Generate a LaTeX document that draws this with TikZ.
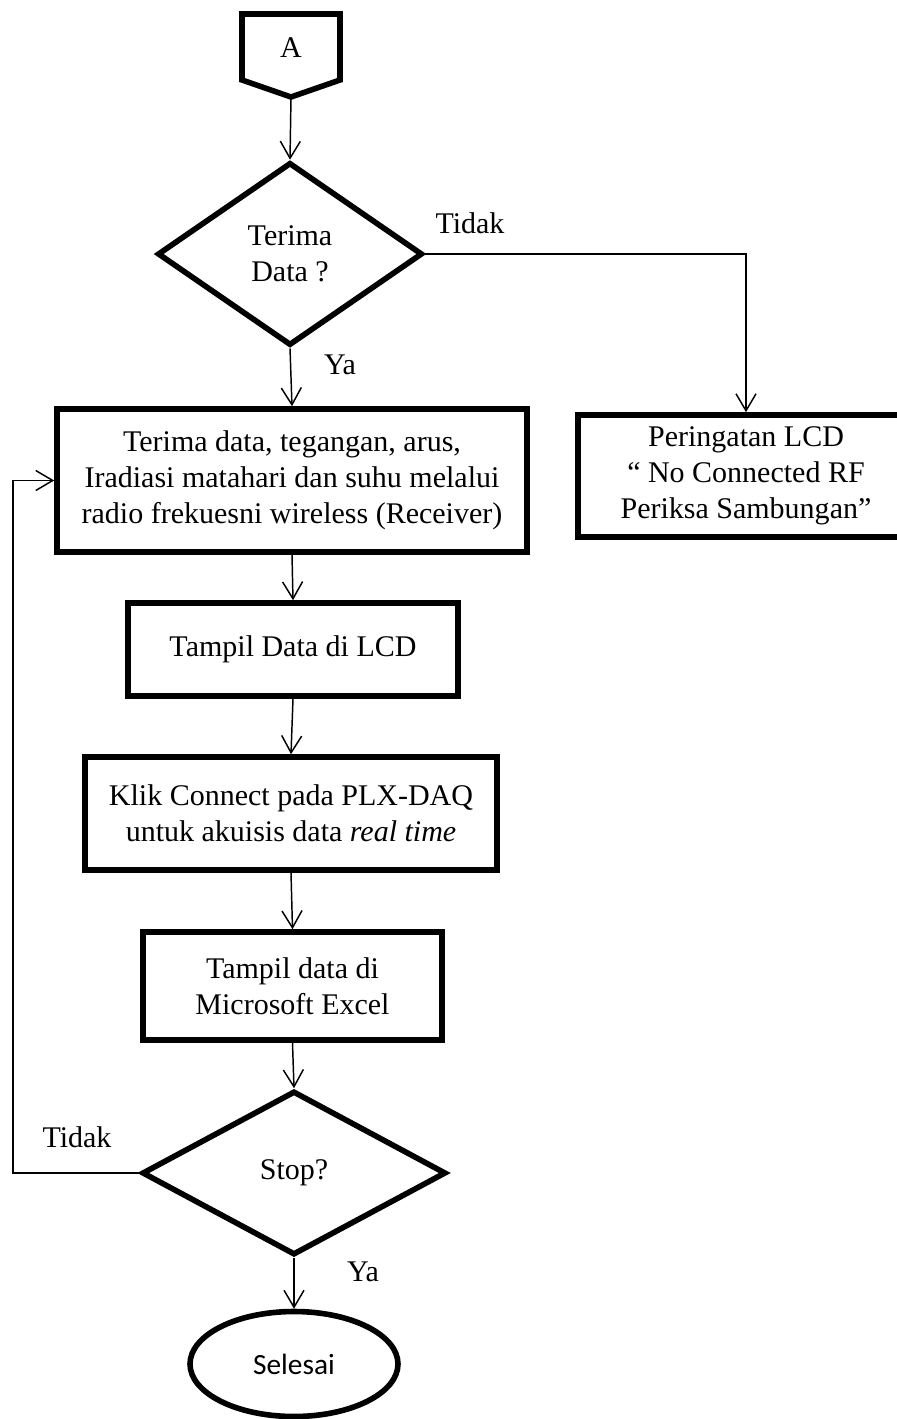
\documentclass[tikz,border=0pt]{standalone}
\usepackage{fontspec}
\setmainfont{Liberation Serif}
\newfontfamily\carlitofont{Carlito}
\usetikzlibrary{shapes.geometric,arrows.meta}

\begin{document}
\begin{tikzpicture}[x=0.75pt,y=0.75pt,yscale=-1,xscale=1,
  every node/.style={font=\fontsize{22.5}{27}\selectfont},
  procbox/.style={draw,rectangle,line width=4.2pt,inner sep=0pt,align=center},
  decide/.style={draw,diamond,line width=4.2pt,inner sep=0pt,align=center},
  flowline/.style={line width=1.1pt,-{Straight Barb[length=12.75pt,width=15pt,line width=1.1pt]}}]
%set diagram left start at 0, and has height of 1419
\path[use as bounding box] (0,0) rectangle (896,1419);

% Off-page connector
\draw [line width=4.2pt,line join=miter] (242,14) -- (340,14) -- (340,80) -- (291,97) -- (242,80) -- cycle ;
\draw (291,48) node [inner sep=0pt] (conA) {A};
\coordinate (conAtip) at (291,97);
% Diamond
\draw (290,254) node [decide,minimum width=198.75pt,minimum height=137.25pt] (terima) {Terima\\Data ?};
% Rectangle
\draw (292,480.5) node [procbox,minimum width=352.5pt,minimum height=107.25pt] (recv) {Terima data, tegangan, arus,\\Iradiasi matahari dan suhu melalui\\radio frekuesni wireless (Receiver)};
% Rectangle
\draw (746,476) node [procbox,minimum width=252pt,minimum height=91.5pt] (warn) {Peringatan LCD\\“ No Connected RF\\Periksa Sambungan”};
% Rectangle
\draw (293,649.5) node [procbox,minimum width=247.5pt,minimum height=69.75pt] (lcd) {Tampil Data di LCD};
% Rectangle
\draw (291,813.5) node [procbox,minimum width=309pt,minimum height=84.75pt] (plx) {Klik Connect pada PLX-DAQ\\untuk akuisis data \textit{real time}};
% Rectangle
\draw (292.5,986) node [procbox,minimum width=224.25pt,minimum height=81pt] (excel) {Tampil data di\\Microsoft Excel};
% Diamond
\draw (294,1173) node [decide,minimum width=228pt,minimum height=123pt] (stop) {Stop?};
% Ellipse
\draw (294,1364) node [draw,ellipse,line width=4.2pt,inner sep=0pt,minimum width=156pt,minimum height=78.75pt,font=\carlitofont\fontsize{22}{26}\selectfont] (selesai) {Selesai};

% Text Node
\draw (470,223) node [inner sep=0pt] (tidakA) {Tidak};
% Text Node
\draw (340,365) node [inner sep=0pt] (yaA) {Ya};
% Text Node
\draw (77,1137) node [inner sep=0pt] (tidakB) {Tidak};
% Text Node
\draw (363,1272) node [inner sep=0pt] (yaB) {Ya};

% Connection
\draw [flowline] (conAtip) -- (terima.north) ;
% Connection
\draw [flowline] (terima.south) -- (recv.north) ;
% Connection
\draw [flowline] (terima.east) -| (warn.north) ;
% Connection
\draw [flowline] (recv.south) -- (lcd.north) ;
% Connection
\draw [flowline] (lcd.south) -- (plx.north) ;
% Connection
\draw [flowline] (plx.south) -- (excel.north) ;
% Connection
\draw [flowline] (excel.south) -- (stop.north) ;
% Connection
\draw [flowline] (stop.south) -- (selesai.north) ;
% Connection
\coordinate (loopturn) at (13,1173);
\draw [flowline] (stop.west) -- (loopturn) |- (recv.west) ;

\end{tikzpicture}
\end{document}
